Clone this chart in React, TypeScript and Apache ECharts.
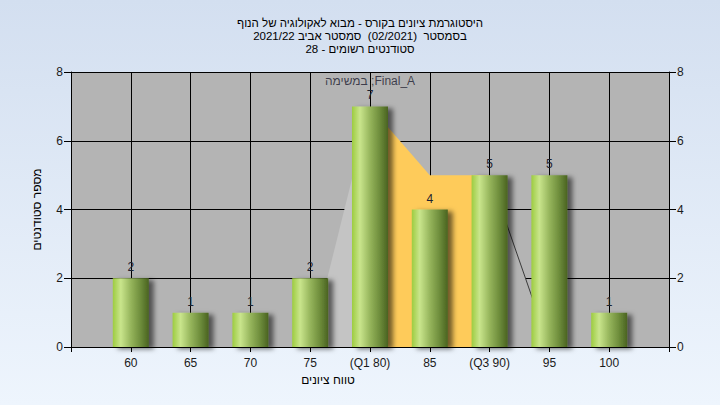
import React, { useEffect, useRef } from "react";
import * as echarts from "echarts";

// Score buckets and how many students fell in each
const scores = [60, 65, 70, 75, 80, 85, 90, 95, 100];
const counts = [2, 1, 1, 2, 7, 4, 5, 5, 1];
const scoreLabels = ["60", "65", "70", "75", "(Q1 80)", "85", "(Q3 90)", "95", "100"];

// Quartile shading: lower whisker, inter-quartile band, upper whisker
const lowerWhisker = [[75, 0], [80, 7]];
const iqrBand = [[80, 7], [85, 5], [90, 5]];
const upperWhisker = [[90, 5], [95, 0]];

const yTicks = [0, 2, 4, 6, 8];

const titleLines = [
  "היסטוגרמת ציונים בקורס - מבוא לאקולוגיה של הנוף",
  "בסמסטר  (02/2021)  סמסטר אביב 2021/22",
  "סטודנטים רשומים - 28",
];
const taskLabel = "במשימה ;Final_A";

const FONT = "'Liberation Sans', Arial, 'DejaVu Sans', sans-serif";

export default function App() {
  const ref = useRef<HTMLDivElement>(null);

  useEffect(() => {
    if (!ref.current) return;
    const chart = echarts.init(ref.current, null, { renderer: "svg" });

    const labelMap: Record<number, string> = {};
    scores.forEach((s, i) => (labelMap[s] = scoreLabels[i]));

    const barGradient = new echarts.graphic.LinearGradient(0, 0, 1, 0, [
      { offset: 0, color: "#9dcc40" },
      { offset: 0.22, color: "#c9e58c" },
      { offset: 0.5, color: "#96b55c" },
      { offset: 0.78, color: "#6c8b3a" },
      { offset: 1, color: "#4a6321" },
    ]);

    const yAxisBase = {
      type: "value",
      min: yTicks[0],
      max: yTicks[yTicks.length - 1],
      interval: 2,
      axisLine: { show: true, lineStyle: { color: "#000", width: 1 } },
      axisTick: { show: true, length: 7, lineStyle: { color: "#000" } },
      axisLabel: { color: "#1a1a1a", fontSize: 12, fontFamily: FONT, margin: 8 },
    };

    chart.setOption({
      animation: false,
      backgroundColor: "transparent",
      textStyle: { fontFamily: FONT },
      title: {
        text: titleLines.join("\n"),
        left: "center",
        top: 11,
        textStyle: {
          fontSize: 11.5,
          fontWeight: "normal",
          color: "#000",
          lineHeight: 13,
          fontFamily: FONT,
        },
      },
      grid: {
        left: 71,
        right: 51,
        top: 72,
        bottom: 58,
        show: true,
        backgroundColor: "#b4b4b4",
        borderWidth: 0,
      },
      xAxis: {
        type: "value",
        min: 55,
        max: 105,
        interval: 5,
        name: "טווח ציונים",
        nameLocation: "middle",
        nameGap: 27,
        nameTextStyle: {
          color: "#000",
          fontSize: 12,
          fontFamily: FONT,
          padding: [0, 84, 0, 0],
        },
        axisLine: { show: true, onZero: false, lineStyle: { color: "#000" } },
        axisTick: { show: true, length: 5, lineStyle: { color: "#000" } },
        axisLabel: {
          color: "#1a1a1a",
          fontSize: 12,
          fontFamily: FONT,
          margin: 10,
          formatter: (v: number) => labelMap[v] ?? "",
        },
        splitLine: { show: true, lineStyle: { color: "#000", width: 1 } },
      },
      yAxis: [
        {
          ...yAxisBase,
          position: "left",
          name: "מספר סטודנטים",
          nameLocation: "middle",
          nameGap: 28,
          nameTextStyle: { color: "#000", fontSize: 12, fontFamily: FONT },
          splitLine: { show: true, lineStyle: { color: "#000", width: 1 } },
        },
        {
          ...yAxisBase,
          position: "right",
          splitLine: { show: false },
        },
      ],
      series: [
        {
          type: "line",
          data: lowerWhisker,
          symbol: "none",
          lineStyle: { width: 0 },
          areaStyle: { color: "#c4c4c4", opacity: 1 },
          z: 1,
          silent: true,
        },
        {
          type: "line",
          data: iqrBand,
          symbol: "none",
          lineStyle: { width: 0 },
          areaStyle: { color: "#fecb5a", opacity: 1 },
          z: 1,
          silent: true,
        },
        {
          type: "line",
          data: upperWhisker,
          symbol: "none",
          lineStyle: { width: 1, color: "#3a3a3a" },
          areaStyle: { color: "#b4b4b4", opacity: 1 },
          z: 1,
          silent: true,
        },
        {
          name: "Final_A",
          type: "bar",
          barWidth: 36,
          data: scores.map((s, i) => [s, counts[i]]),
          itemStyle: {
            color: barGradient,
            shadowColor: "rgba(0,0,0,0.55)",
            shadowBlur: 5,
            shadowOffsetX: 5,
            shadowOffsetY: 2,
          },
          label: {
            show: true,
            position: "top",
            distance: 5,
            color: "#1c2230",
            fontSize: 12,
            fontFamily: FONT,
            formatter: (p: any) => String(p.value[1]),
          },
          z: 3,
        },
        {
          type: "scatter",
          data: [[scores[4], counts[4]]],
          symbolSize: 0,
          label: {
            show: true,
            position: "top",
            distance: 19,
            color: "#1c1c30",
            fontSize: 12,
            fontFamily: FONT,
            formatter: () => taskLabel,
          },
          z: 4,
          silent: true,
        },
      ],
    });

    return () => chart.dispose();
  }, []);

  return (
    <div
      style={{
        position: "fixed",
        left: 0,
        top: 0,
        width: 720,
        height: 405,
        background: "linear-gradient(to bottom, #d3dff0 0%, #eef5fd 100%)",
      }}
    >
      <div ref={ref} style={{ width: 720, height: 405 }} />
    </div>
  );
}
